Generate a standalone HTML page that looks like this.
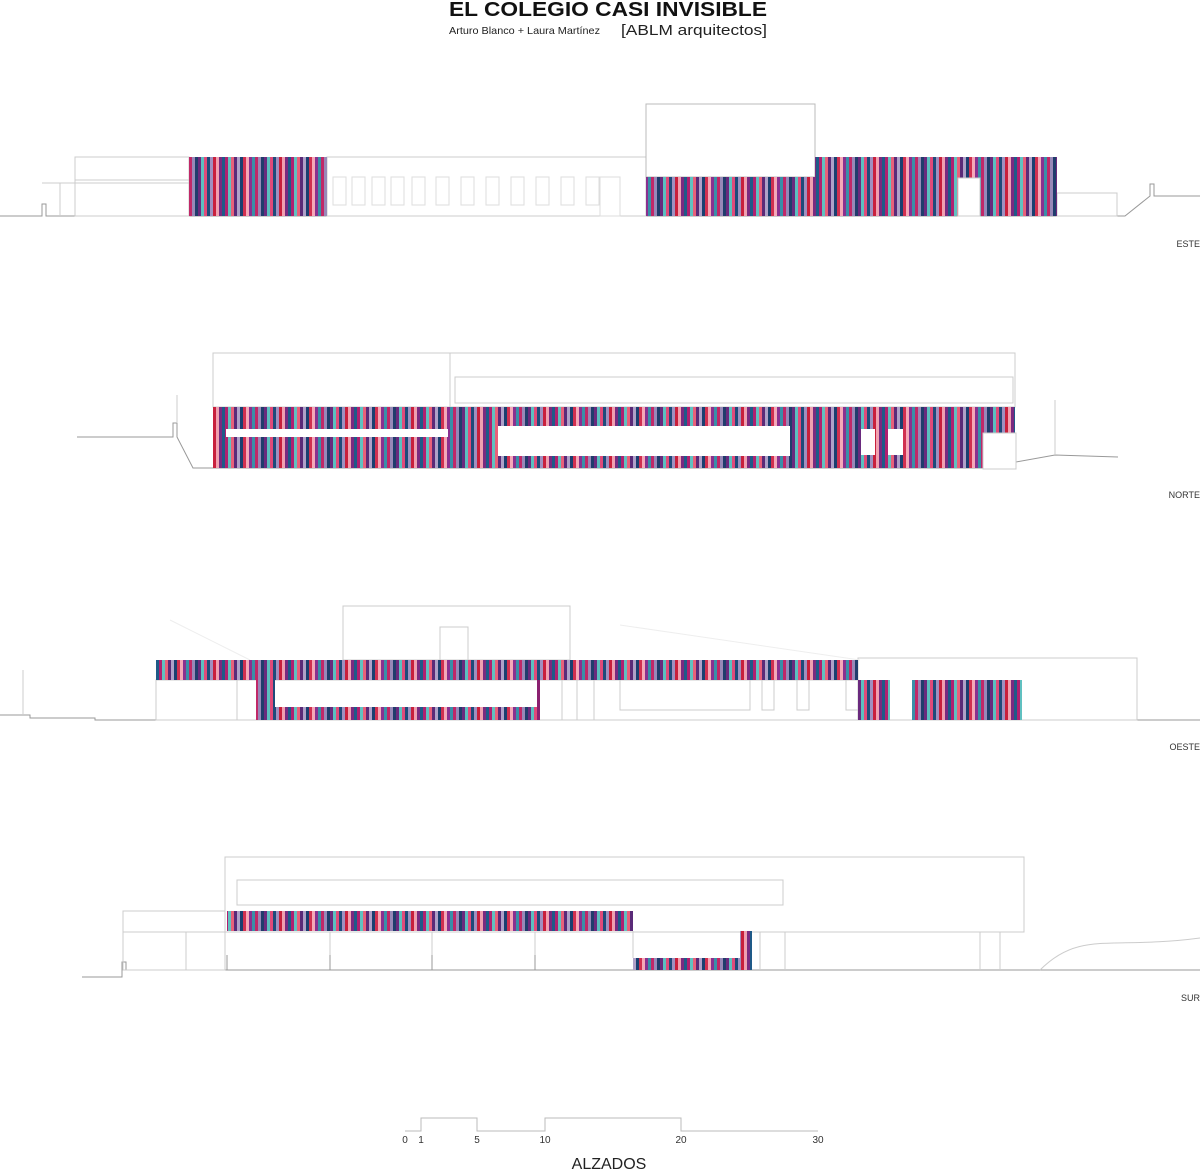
<!DOCTYPE html>
<html><head><meta charset="utf-8"><style>
html,body{margin:0;padding:0;background:#fff;width:1200px;height:1171px;overflow:hidden}
svg{display:block}
text{font-family:"Liberation Sans",sans-serif}
</style></head><body>
<svg width="1200" height="1171" viewBox="0 0 1200 1171" xmlns="http://www.w3.org/2000/svg">
<defs>
<pattern id="st" width="66" height="10" patternUnits="userSpaceOnUse">
<rect x="0" width="3" height="10" fill="#6a2a7e"/><rect x="3" width="3" height="10" fill="#5bbfc0"/>
<rect x="6" width="3" height="10" fill="#e04a7a"/><rect x="9" width="3" height="10" fill="#1f4a7a"/>
<rect x="12" width="3" height="10" fill="#a090c0"/><rect x="15" width="3" height="10" fill="#c8203c"/>
<rect x="18" width="3" height="10" fill="#f0a0b0"/><rect x="21" width="3" height="10" fill="#7a2a80"/>
<rect x="24" width="3" height="10" fill="#1f5a88"/><rect x="27" width="3" height="10" fill="#b02070"/>
<rect x="30" width="3" height="10" fill="#60c0c0"/><rect x="33" width="3" height="10" fill="#e8607a"/>
<rect x="36" width="3" height="10" fill="#5a2a78"/><rect x="39" width="3" height="10" fill="#b0a0c8"/>
<rect x="42" width="3" height="10" fill="#1a3f70"/><rect x="45" width="3" height="10" fill="#d03050"/>
<rect x="48" width="3" height="10" fill="#f5a8b8"/><rect x="51" width="3" height="10" fill="#8a3090"/>
<rect x="54" width="3" height="10" fill="#3a8fa8"/><rect x="57" width="3" height="10" fill="#c02868"/>
<rect x="60" width="3" height="10" fill="#9888b8"/><rect x="63" width="3" height="10" fill="#203c6c"/>
</pattern>
</defs>
<g fill="none" stroke="#ccc" stroke-width="1">
<polyline points="0,216 42,216 42,204 46,204 46,216 1125,216 1150,196 1150,184 1154,184 1154,196 1200,196" stroke="#999"/>
<rect x="75" y="157" width="114" height="59"/><line x1="42" y1="183" x2="189" y2="183"/><line x1="60" y1="183" x2="60" y2="216"/><line x1="75" y1="180" x2="189" y2="180"/>
<rect x="327" y="157" width="319" height="59"/>
<rect x="646" y="104" width="169" height="73" stroke="#bbb"/>
<rect x="1057" y="193" width="60" height="23"/>
</g>
<g fill="none" stroke="#ddd">
<rect x="333" y="177" width="13" height="28"/><rect x="352" y="177" width="13" height="28"/><rect x="372" y="177" width="13" height="28"/><rect x="391" y="177" width="13" height="28"/><rect x="412" y="177" width="13" height="28"/><rect x="436" y="177" width="13" height="28"/><rect x="461" y="177" width="13" height="28"/><rect x="486" y="177" width="13" height="28"/><rect x="511" y="177" width="13" height="28"/><rect x="536" y="177" width="13" height="28"/><rect x="561" y="177" width="13" height="28"/><rect x="586" y="177" width="13" height="28"/><rect x="600" y="177" width="20" height="39"/>
</g>
<rect x="189" y="157" width="138" height="59" fill="url(#st)"/>
<rect x="646" y="177" width="169" height="39" fill="url(#st)"/>
<rect x="815" y="157" width="242" height="59" fill="url(#st)"/>
<rect x="958" y="178" width="22" height="38" fill="#fff" stroke="#ccc"/>
<text x="1200" y="247" font-size="9" text-anchor="end" fill="#333">ESTE</text>

<g fill="none" stroke="#ccc">
<polyline points="77,437 173,437 173,423 177,423 177,437 193,468 983,468 1055,455 1118,457" stroke="#999"/>
<line x1="177" y1="395" x2="177" y2="423"/><line x1="1055" y1="400" x2="1055" y2="455"/>
<rect x="213" y="353" width="802" height="54"/><line x1="450" y1="353" x2="450" y2="407"/>
<rect x="455" y="377" width="558" height="26"/>
</g>
<rect x="213" y="407" width="802" height="61" fill="url(#st)"/>
<rect x="983" y="433" width="33" height="36" fill="#fff" stroke="#ccc"/>
<rect x="226" y="429" width="222" height="8" fill="#fff"/>
<rect x="498" y="426" width="292" height="30" fill="#fff"/>
<rect x="861" y="429" width="14" height="26" fill="#fff"/>
<rect x="888" y="429" width="15" height="26" fill="#fff"/>
<text x="1200" y="498" font-size="9" text-anchor="end" fill="#333">NORTE</text>

<g fill="none" stroke="#ccc">
<polyline points="0,715 30,715 30,718 95,718 95,720 1200,720" stroke="#999"/>
<line x1="23" y1="670" x2="23" y2="715"/>
<rect x="343" y="606" width="227" height="54"/><rect x="440" y="627" width="28" height="33"/>
<rect x="156" y="680" width="702" height="40"/>
<rect x="858" y="658" width="279" height="62"/>
<line x1="237" y1="680" x2="237" y2="720"/><line x1="562" y1="680" x2="562" y2="720"/><line x1="577" y1="680" x2="577" y2="720"/><line x1="594" y1="680" x2="594" y2="720"/>
<rect x="620" y="680" width="130" height="30"/><rect x="762" y="680" width="12" height="30"/><rect x="797" y="680" width="12" height="30"/><rect x="846" y="680" width="12" height="30"/>
<line x1="170" y1="620" x2="250" y2="660" stroke="#eee"/><line x1="620" y1="625" x2="860" y2="660" stroke="#eee"/>
</g>
<rect x="156" y="660" width="702" height="20" fill="url(#st)"/>
<rect x="256" y="680" width="19" height="40" fill="url(#st)"/>
<rect x="275" y="707" width="262" height="13" fill="url(#st)"/>
<rect x="537" y="680" width="3" height="40" fill="#8a2070"/>
<rect x="858" y="680" width="32" height="40" fill="url(#st)"/>
<rect x="912" y="680" width="110" height="40" fill="url(#st)"/>
<text x="1200" y="750" font-size="9" text-anchor="end" fill="#333">OESTE</text>

<g fill="none" stroke="#ccc">
<polyline points="82,977 122,977 122,962 126,962 126,970 1200,970" stroke="#999"/>
<rect x="225" y="857" width="799" height="75"/>
<rect x="237" y="880" width="546" height="25"/>
<rect x="123" y="911" width="102" height="59"/>
<line x1="123" y1="932" x2="633" y2="932"/>
<line x1="330" y1="932" x2="330" y2="970"/><line x1="432" y1="932" x2="432" y2="970"/><line x1="535" y1="932" x2="535" y2="970"/><line x1="186" y1="932" x2="186" y2="970"/>
<line x1="760" y1="932" x2="760" y2="970"/><line x1="785" y1="932" x2="785" y2="970"/><line x1="980" y1="932" x2="980" y2="970"/><line x1="1000" y1="932" x2="1000" y2="970"/>
<path d="M1040,970 C1080,930 1110,950 1200,938"/>
<line x1="633" y1="931" x2="633" y2="958"/>
</g>
<g stroke="#999"><line x1="227" y1="955" x2="227" y2="970"/><line x1="330" y1="955" x2="330" y2="970"/><line x1="432" y1="955" x2="432" y2="970"/><line x1="535" y1="955" x2="535" y2="970"/></g>
<rect x="227" y="911" width="406" height="20" fill="url(#st)"/>
<rect x="633" y="958" width="107" height="12" fill="url(#st)"/>
<rect x="740" y="931" width="12" height="39" fill="url(#st)"/>
<text x="1200" y="1001" font-size="9" text-anchor="end" fill="#333">SUR</text>

<polyline points="405,1131 421,1131 421,1118 477,1118 477,1131 545,1131 545,1118 681,1118 681,1131 818,1131" fill="none" stroke="#bbb"/>
<g font-size="10" fill="#333" text-anchor="middle">
<text x="405" y="1143">0</text><text x="421" y="1143">1</text><text x="477" y="1143">5</text><text x="545" y="1143">10</text><text x="681" y="1143">20</text><text x="818" y="1143">30</text>
</g>
<text x="609" y="1169" font-size="16" text-anchor="middle" fill="#222">ALZADOS</text>

<text x="449" y="16" font-size="20" font-weight="bold" fill="#111" textLength="318" lengthAdjust="spacingAndGlyphs">EL COLEGIO CASI INVISIBLE</text>
<text x="449" y="34" font-size="10.5" fill="#222" textLength="151" lengthAdjust="spacingAndGlyphs">Arturo Blanco + Laura Martínez</text>
<text x="621" y="35" font-size="15" fill="#222" textLength="146" lengthAdjust="spacingAndGlyphs">[ABLM arquitectos]</text>
</svg>
</body></html>
